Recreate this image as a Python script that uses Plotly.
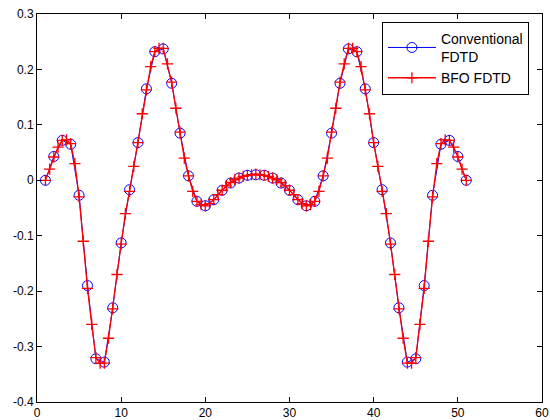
import plotly.graph_objects as go

# Conventional FDTD (integer samples)
conv_x = list(range(1, 52))
conv_y = [0.0, 0.043, 0.072, 0.065, -0.027, -0.19, -0.322, -0.328, -0.23, -0.113,
          -0.017, 0.068, 0.165, 0.232, 0.237, 0.175, 0.085, 0.008, -0.038, -0.046,
          -0.035, -0.018, -0.005, 0.004, 0.009, 0.01, 0.009, 0.004, -0.005, -0.018,
          -0.035, -0.046, -0.038, 0.008, 0.085, 0.175, 0.237, 0.232, 0.165, 0.068,
          -0.017, -0.113, -0.23, -0.328, -0.322, -0.19, -0.027, 0.065, 0.072, 0.043, 0.0]

# BFO FDTD (half-step samples)
bfo_x = [1 + 0.5 * i for i in range(101)]
bfo_y = [0.0, 0.02, 0.042, 0.06, 0.072, 0.073, 0.066, 0.03, -0.03, -0.11,
         -0.195, -0.26, -0.32, -0.33, -0.33, -0.285, -0.232, -0.17, -0.115, -0.06,
         -0.02, 0.025, 0.068, 0.12, 0.163, 0.205, 0.232, 0.238, 0.238, 0.21,
         0.177, 0.13, 0.087, 0.04, 0.008, -0.02, -0.038, -0.044, -0.046, -0.042,
         -0.035, -0.026, -0.018, -0.01, -0.004, 0.001, 0.004, 0.007, 0.009, 0.01,
         0.011,
         0.01, 0.009, 0.007, 0.004, 0.001, -0.004, -0.01, -0.018, -0.026, -0.035,
         -0.042, -0.046, -0.044, -0.038, -0.02, 0.008, 0.04, 0.087, 0.13, 0.177,
         0.21, 0.238, 0.238, 0.232, 0.205, 0.163, 0.12, 0.068, 0.025, -0.02,
         -0.06, -0.115, -0.17, -0.232, -0.285, -0.33, -0.33, -0.32, -0.26, -0.195,
         -0.11, -0.03, 0.03, 0.066, 0.073, 0.072, 0.06, 0.042, 0.02, 0.0]

x_ticks = [0, 10, 20, 30, 40, 50, 60]
y_ticks = [-0.4, -0.3, -0.2, -0.1, 0, 0.1, 0.2, 0.3]
y_labels = ["-0.4", "-0.3", "-0.2", "-0.1", "0", "0.1", "0.2", "0.3"]

fig = go.Figure()
fig.add_trace(go.Scatter(
    x=conv_x, y=conv_y, mode="lines+markers", name="Conventional<br>FDTD",
    line=dict(color="rgb(0,0,255)", width=1),
    marker=dict(symbol="circle-open", size=10, color="rgb(0,0,255)", line=dict(width=1))))
fig.add_trace(go.Scatter(
    x=bfo_x, y=bfo_y, mode="lines+markers", name="BFO FDTD",
    line=dict(color="rgb(255,0,0)", width=1.3),
    marker=dict(symbol="cross-thin-open", size=8, color="rgb(255,0,0)", line=dict(width=1.3, color="rgb(255,0,0)"))))

axis_common = dict(showline=True, linecolor="black", linewidth=1, mirror="ticks",
                   ticks="inside", ticklen=5, tickcolor="black", showgrid=False,
                   zeroline=False, automargin=False,
                   tickfont=dict(family="Liberation Sans, Arial", size=12, color="black"))

fig.update_layout(
    width=550, height=420,
    margin=dict(l=37, r=8, t=14, b=18),
    paper_bgcolor="white", plot_bgcolor="white",
    font=dict(family="Liberation Sans, Arial", size=12, color="black"),
    xaxis=dict(range=[0, 60], tickvals=x_ticks, ticktext=[str(v) for v in x_ticks], ticklabelstandoff=0, **axis_common),
    yaxis=dict(range=[-0.4, 0.3], tickvals=y_ticks, ticktext=y_labels, **axis_common),
    legend=dict(x=0.683, y=0.98, xanchor="left", yanchor="top",
                bordercolor="black", borderwidth=1, bgcolor="white",
                font=dict(family="Liberation Sans, Arial", size=14, color="black"),
                itemwidth=48, tracegroupgap=0),
    showlegend=True,
)

fig.write_html("out.html", config={"displayModeBar": False},
               post_script="document.body.style.margin='0';document.body.style.overflow='hidden';")
